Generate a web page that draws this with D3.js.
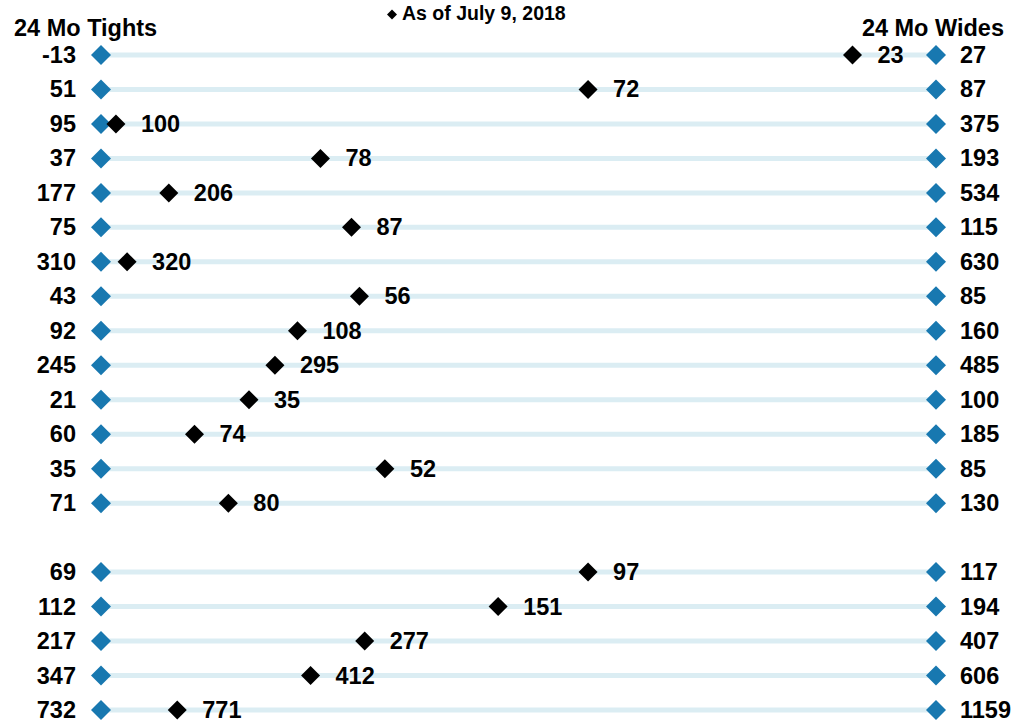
<!DOCTYPE html>
<html>
<head>
<meta charset="utf-8">
<script src="https://cdn.jsdelivr.net/npm/d3@7"></script>
<style>
  html, body { margin: 0; padding: 0; background: #fff; }
  svg { display: block; font-family: "Liberation Sans", Arial, sans-serif; font-weight: bold; }
</style>
</head>
<body>
<svg id="chart" width="1019" height="723"></svg>
<script>
// 24-month range per instrument: tight, current (as of July 9, 2018), wide.
// A null row marks the blank separator between the two groups.
const tights   = [-13, 51, 95, 37, 177, 75, 310, 43, 92, 245, 21, 60, 35, 71, null, 69, 112, 217, 347, 732];
const currents = [ 23, 72, 100, 78, 206, 87, 320, 56, 108, 295, 35, 74, 52, 80, null, 97, 151, 277, 412, 771];
const wides    = [ 27, 87, 375, 193, 534, 115, 630, 85, 160, 485, 100, 185, 85, 130, null, 117, 194, 407, 606, 1159];

const legendLabel = "As of July 9, 2018";
const leftTitle = "24 Mo Tights";
const rightTitle = "24 Mo Wides";

const svg = d3.select("#chart");
const FS = 23.5;

const rows = tights.map((t, i) => ({ i, tight: t, cur: currents[i], wide: wides[i] }))
  .filter(d => d.tight !== null);

// vertical slots (including the blank one)
const y = d3.scalePoint()
  .domain(d3.range(tights.length))
  .range([55, 710]);

// position within each row's own tight..wide range
const x = d3.scaleLinear().domain([0, 1]).range([101, 936]);
const frac = d => (d.cur - d.tight) / (d.wide - d.tight);

function diamondPath(half) {
  return `M0,${-half}L${half},0L0,${half}L${-half},0Z`;
}

const g = svg.append("g");

const row = g.selectAll("g.row").data(rows).join("g")
  .attr("class", "row")
  .attr("transform", d => `translate(0,${y(d.i)})`);

// range bar
row.append("line")
  .attr("x1", x(0)).attr("x2", x(1))
  .attr("y1", 0).attr("y2", 0)
  .attr("stroke", "#dbedf3")
  .attr("stroke-width", 5);

// end markers
row.append("path")
  .attr("d", diamondPath(10))
  .attr("transform", `translate(${x(0)},0)`)
  .attr("fill", "#1878b0");
row.append("path")
  .attr("d", diamondPath(10))
  .attr("transform", `translate(${x(1)},0)`)
  .attr("fill", "#1878b0");

// current marker
row.append("path")
  .attr("d", diamondPath(9.5))
  .attr("transform", d => `translate(${x(frac(d))},0)`)
  .attr("fill", "#000");

// labels
row.append("text")
  .attr("x", 76).attr("y", 8)
  .attr("text-anchor", "end")
  .attr("font-size", FS)
  .attr("fill", "#000")
  .text(d => d.tight);

row.append("text")
  .attr("x", 960).attr("y", 8)
  .attr("text-anchor", "start")
  .attr("font-size", FS)
  .attr("fill", "#000")
  .text(d => d.wide);

row.append("text")
  .attr("x", d => x(frac(d)) + 25).attr("y", 8)
  .attr("text-anchor", "start")
  .attr("font-size", FS)
  .attr("fill", "#000")
  .text(d => d.cur);

// column titles
svg.append("text")
  .attr("x", 14).attr("y", 36)
  .attr("font-size", FS).attr("fill", "#000")
  .text(leftTitle);
svg.append("text")
  .attr("x", 1004).attr("y", 36)
  .attr("text-anchor", "end")
  .attr("font-size", FS).attr("fill", "#000")
  .text(rightTitle);

// legend
svg.append("path")
  .attr("d", diamondPath(5))
  .attr("transform", "translate(392,14.5)")
  .attr("fill", "#000");
svg.append("text")
  .attr("x", 402).attr("y", 20)
  .attr("font-size", 19.5).attr("fill", "#000")
  .text(legendLabel);
</script>
</body>
</html>
